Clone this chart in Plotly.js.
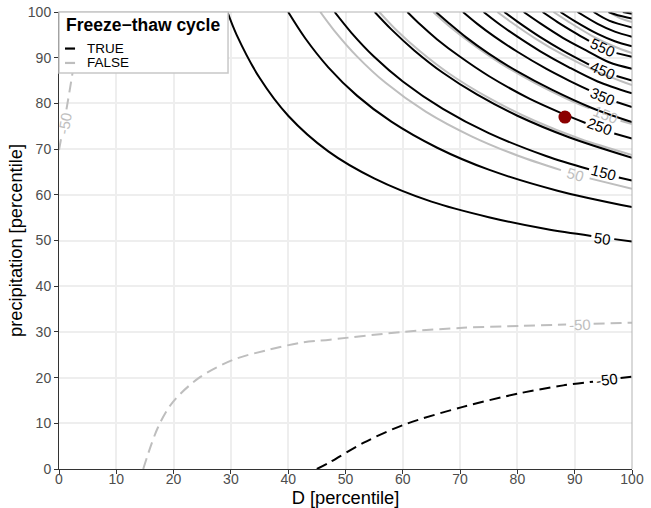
<!DOCTYPE html>
<html>
<head>
<meta charset="utf-8">
<script src="https://cdn.plot.ly/plotly-3.0.1.min.js"></script>
<style>html,body{margin:0;padding:0;background:#fff;}#chart{width:651px;height:508px;}</style>
</head>
<body>
<div id="chart"></div>
<script>
// ---- Contour lines (D percentile, precipitation percentile) ----
// Freeze-thaw cycle TRUE (black)
const trueLevels = [-50, 50, 100, 150, 200, 250, 300, 350, 400, 450, 500, 550, 600, 650, 700, 750, 800];
const trueX = [
  [45, 47.3, 53.1, 60, 70.5, 80.5, 88, 93.2, null, 98, 100],
  [29.4, 31, 35, 40, 47, 55, 65, 75, 85, 92.9, null, 96.9, 100],
  [40, 43, 47, 52, 58, 66, 75, 87, 100],
  [48.1, 51, 55, 60, 67, 75, 85, 92.5, null, 97.7, 100],
  [55.1, 58, 62, 67, 73, 80, 89, 100],
  [60.8, 63, 66, 70, 75, 82, 88, 91.9, null, 96.9, 100],
  [65.8, 68, 71, 75, 80, 86, 93, 100],
  [70.5, 73, 76, 80, 85, 89, 92.5, null, 97.3, 100],
  [74.1, 77, 80, 84, 89, 94, 100],
  [77.7, 80, 84, 88, 92.5, null, 97.3, 100],
  [81.1, 84, 88, 92, 96, 100],
  [84.4, 87, 90, 92.5, null, 97.3, 100],
  [87.5, 90, 94, 97, 100],
  [90.5, 94, 97, 100],
  [93.3, 96, 100],
  [95.9, 97.5, 100],
  [98.4, 100]
];
const trueY = [
  [0, 1.5, 5.7, 9.6, 13.6, 16.6, 18.3, 19.1, null, 19.9, 20.2],
  [100, 95, 85.6, 77.3, 69.5, 63.6, 58.5, 55.1, 52.5, 51.0, null, 50.3, 49.8],
  [100, 94.2, 87.9, 81.7, 76.0, 70.3, 65.5, 60.9, 57.3],
  [100, 95.5, 90.2, 84.8, 78.8, 73.5, 68.5, 65.6, null, 63.8, 63.1],
  [100, 96.2, 91.6, 86.7, 81.9, 77.3, 72.6, 68.1],
  [100, 97.3, 94.0, 90.2, 86.0, 81.1, 77.7, 75.7, null, 73.4, 72.3],
  [100, 97.6, 94.5, 90.9, 87.0, 83.0, 79.0, 75.9],
  [100, 97.4, 94.6, 91.3, 87.6, 85.0, 82.9, null, 80.3, 79.2],
  [100, 97.2, 94.6, 91.4, 87.9, 84.8, 82.2],
  [100, 97.9, 94.5, 91.5, 88.5, null, 86.0, 85.0],
  [100, 97.5, 94.3, 91.6, 89.0, 87.6],
  [100, 97.8, 95.5, 93.7, null, 91.0, 90.2],
  [100, 98.0, 95.2, 93.6, 92.5],
  [100, 97.4, 95.7, 94.6],
  [100, 98.1, 96.6],
  [100, 99.3, 98.6],
  [100, 99.6]
];
// Freeze-thaw cycle FALSE (grey)
const falseLevels = [-50, -50, 50, 100, 150, 200, 250, 300];
const falseX = [
  [0, 0.4, null, 1.3, 2.3, 3.2, 3.8],
  [14.7, 17.3, 19.9, 24.6, 30.4, 36.3, 42.1, 47.3, 60, 70.5, 80.5, 88.5, null, 93.3, 100],
  [45.6, 48, 52, 57, 64, 72, 80, 87.6, null, 92.6, 100],
  [55.9, 59, 63, 68, 75, 83, 91, 100],
  [65.3, 68, 72, 77, 83, 89, 92.6, null, 98, 100],
  [76.5, 79, 83, 88, 94, 100],
  [86.3, 89, 93, 97, 100],
  [95.9, 98, 100]
];
const falseY = [
  [69.8, 72.5, null, 78.7, 86.2, 94, 100],
  [0, 9.2, 14.7, 20.1, 23.9, 26.0, 27.6, 28.3, 30.0, 30.9, 31.3, 31.6, null, 31.8, 32.0],
  [100, 96, 90.3, 84.5, 78.2, 72.8, 68.6, 65.4, null, 63.6, 61.3],
  [100, 95.9, 91.4, 86.6, 81.2, 76.2, 72.2, 68.7],
  [100, 97.0, 93.1, 88.8, 84.5, 80.8, 78.9, null, 76.2, 75.5],
  [100, 97.7, 94.3, 90.6, 86.9, 84.0],
  [100, 97.8, 94.8, 92.4, 91.0],
  [100, 98.6, 97.8]
];
// Contour labels
const labelText  = ["50", "150", "250", "350", "450", "550", "-50", "50", "150", "-50", "-50"];
const labelGroup = ["TRUE", "TRUE", "TRUE", "TRUE", "TRUE", "TRUE", "TRUE", "FALSE", "FALSE", "FALSE", "FALSE"];
const labelX     = [94.9, 95.1, 94.4, 94.9, 94.9, 94.9, 95.6, 90.1, 95.3, 90.9, 1.0];
const labelY     = [50.5, 64.8, 74.9, 81.5, 87.1, 92.2, 19.5, 64.4, 77.5, 31.6, 75.6];
const labelAngle = [8, 15, 20, 22, 23, 24, -7, 16, 21, -2, -80];
// Highlighted point
const pointX = [88.3];
const pointY = [77.0];
// Axis ticks
const tickVals = [0, 10, 20, 30, 40, 50, 60, 70, 80, 90, 100];

const BLACK = '#000000', GREY = '#BEBEBE';
const FONT = 'Liberation Sans, Arial, Helvetica, sans-serif';
const traces = [];
function addLines(xs, ys, levels, color) {
  xs.forEach((x, i) => {
    traces.push({
      type: 'scatter', mode: 'lines', x: x, y: ys[i],
      line: {color: color, width: 2, shape: 'spline', smoothing: 0.9,
             dash: levels[i] < 0 ? '11px,6px' : 'solid'},
      connectgaps: false, hoverinfo: 'skip', showlegend: false
    });
  });
}
addLines(falseX, falseY, falseLevels, GREY);
addLines(trueX, trueY, trueLevels, BLACK);
traces.push({type: 'scatter', mode: 'markers', x: pointX, y: pointY,
  marker: {color: '#8B0000', size: 13}, hoverinfo: 'skip', showlegend: false});

const annotations = labelText.map((t, i) => ({
  x: labelX[i], y: labelY[i], xref: 'x', yref: 'y', text: t, showarrow: false,
  textangle: labelAngle[i], xanchor: 'center', yanchor: 'middle',
  font: {family: FONT, size: 15, color: labelGroup[i] === 'TRUE' ? BLACK : GREY}
}));
// legend (custom, ggplot-like)
annotations.push({x: 0.009, y: 0.9716, xref: 'paper', yref: 'paper', text: '<b>Freeze\u2212thaw cycle</b>',
  showarrow: false, xanchor: 'left', yanchor: 'middle', font: {family: FONT, size: 17.5, color: '#000'}});
annotations.push({x: 0.0454, y: 0.920, xref: 'paper', yref: 'paper', text: 'TRUE',
  showarrow: false, xanchor: 'left', yanchor: 'middle', font: {family: FONT, size: 13.5, color: '#000'}});
annotations.push({x: 0.0454, y: 0.8885, xref: 'paper', yref: 'paper', text: 'FALSE',
  showarrow: false, xanchor: 'left', yanchor: 'middle', font: {family: FONT, size: 13.5, color: '#000'}});

const shapes = [
  {type: 'line', xref: 'paper', yref: 'paper', x0: 0, x1: 1, y0: 1, y1: 1, line: {color: '#b3b3b3', width: 1}, layer: 'above'},
  {type: 'line', xref: 'paper', yref: 'paper', x0: 1, x1: 1, y0: 0, y1: 1, line: {color: '#b3b3b3', width: 1}, layer: 'above'},
  {type: 'rect', xref: 'paper', yref: 'paper', x0: 0, x1: 0.295, y0: 0.8665, y1: 1,
   fillcolor: '#ffffff', line: {color: '#c8c8c8', width: 1.5}, layer: 'above'},
  {type: 'line', xref: 'paper', yref: 'paper', x0: 0.0105, x1: 0.028, y0: 0.920, y1: 0.920, line: {color: BLACK, width: 2.2}, layer: 'above'},
  {type: 'line', xref: 'paper', yref: 'paper', x0: 0.0105, x1: 0.028, y0: 0.8885, y1: 0.8885, line: {color: GREY, width: 2.2}, layer: 'above'}
];

const axisCommon = {
  range: [0, 100], tickvals: tickVals, ticktext: tickVals.map(String),
  showgrid: true, gridcolor: '#eeeeee', gridwidth: 2, zeroline: false,
  ticks: 'outside', ticklen: 4, tickwidth: 1, tickcolor: '#333333',
  tickfont: {family: FONT, size: 14, color: '#4d4d4d'},
  showline: true, linecolor: '#333333', linewidth: 1, automargin: false, fixedrange: true
};
const layout = {
  width: 651, height: 508,
  margin: {l: 59, r: 19, t: 12, b: 39},
  paper_bgcolor: '#ffffff', plot_bgcolor: '#ffffff',
  font: {family: FONT},
  showlegend: false,
  xaxis: Object.assign({}, axisCommon, {ticklabelstandoff: -7,
    title: {text: 'D [percentile]', font: {family: FONT, size: 18.3, color: '#000'}, standoff: 2}}),
  yaxis: Object.assign({}, axisCommon, {
    title: {text: 'precipitation [percentile]', font: {family: FONT, size: 18.3, color: '#000'}, standoff: 0}}),
  annotations: annotations,
  shapes: shapes
};
Plotly.newPlot('chart', traces, layout, {staticPlot: true, displayModeBar: false});
</script>
</body>
</html>
